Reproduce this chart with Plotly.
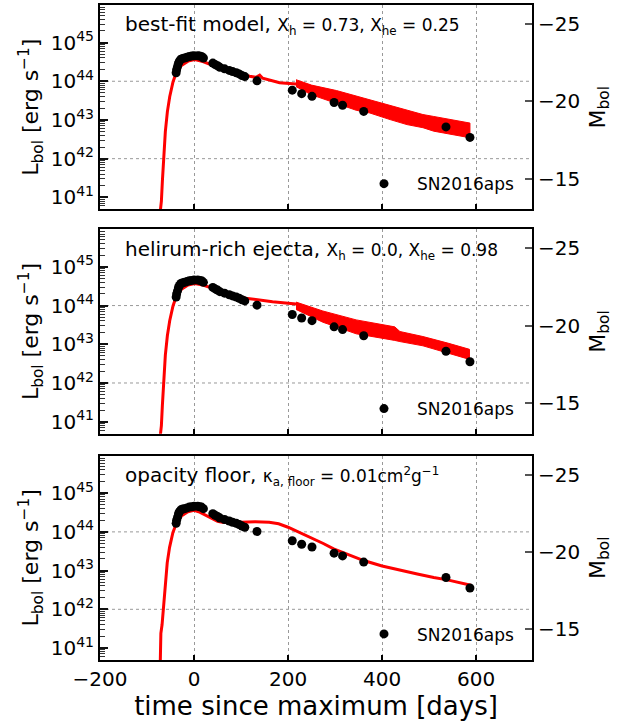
import plotly.graph_objects as go

# ---------------- data ----------------
# SN2016aps bolometric light curve: days since maximum, log10(L / erg s^-1)
obs_days = [-38, -37, -35, -33, -31, -28, -24, -20, -15, -10, -5, 0, 8, 12, 16, 20,
            40, 45, 50, 55, 65, 75, 82, 90, 96, 102, 108, 134,
            209, 229, 251, 298, 316, 361, 536, 587]
obs_logL = [44.22, 44.30, 44.38, 44.47, 44.52, 44.57, 44.59, 44.60, 44.62, 44.64, 44.65, 44.66,
            44.66, 44.65, 44.64, 44.60,
            44.47, 44.43, 44.40, 44.36, 44.32, 44.28, 44.25, 44.22, 44.19, 44.15, 44.12, 44.01,
            43.77, 43.68, 43.61, 43.45, 43.38, 43.22, 42.82, 42.55]

# Panel 1: best-fit model (smooth part, then oscillating band)
m1_days = [-73, -69.4, -67.3, -64.5, -61, -56.7, -51.7, -44.7, -37.4, -26.8, -12.7, 1.5,
           19, 47.7, 83, 118.5, 132, 139.8, 146, 182, 217]
m1_logL = [40.5, 40.9, 41.42, 42.02, 42.70, 43.21, 43.60, 43.98, 44.24, 44.41, 44.52, 44.56,
           44.51, 44.37, 44.22, 44.13, 44.10, 44.16, 44.08, 43.96, 43.93]
m1_band_days = [217, 250, 303, 345, 374, 417, 453, 487, 510, 550, 587]
m1_band_hi = [44.04, 43.90, 43.76, 43.62, 43.53, 43.37, 43.25, 43.14, 43.09, 43.01, 42.92]
m1_band_lo = [43.86, 43.65, 43.43, 43.25, 43.18, 43.01, 42.88, 42.80, 42.71, 42.63, 42.54]

# Panel 2: helium-rich ejecta model
m2_days = [-73, -69.4, -67.3, -64.5, -61, -56.7, -51.7, -44.7, -37.4, -26.8, -12.7, 1.5,
           19, 60.6, 110, 167, 217]
m2_logL = [40.5, 40.9, 41.42, 42.02, 42.72, 43.22, 43.61, 43.99, 44.25, 44.42, 44.53, 44.57,
           44.53, 44.36, 44.19, 44.10, 44.04]
m2_band_days = [217, 274, 345, 427, 438, 487, 540, 586]
m2_band_hi = [44.09, 43.86, 43.63, 43.45, 43.33, 43.20, 43.03, 42.87]
m2_band_lo = [43.90, 43.57, 43.27, 43.10, 43.07, 42.96, 42.78, 42.61]

# Panel 3: opacity-floor model
m3_days = [-72, -70.5, -68, -65, -61, -57, -52, -45, -37, -27, -13, 0, 10, 20, 35, 50, 60,
           80, 100, 130, 160, 180, 200, 225, 250, 275, 297, 330, 361, 400, 440, 475, 510,
           539, 589]
m3_logL = [40.5, 41.38, 41.6, 42.05, 42.72, 43.2, 43.6, 43.98, 44.24, 44.41, 44.52, 44.56,
           44.52, 44.46, 44.36, 44.27, 44.25, 44.24, 44.25, 44.26, 44.25, 44.21, 44.12,
           43.98, 43.85, 43.70, 43.56, 43.40, 43.26, 43.12, 43.00, 42.91, 42.82, 42.76, 42.62]

title_text = ["best-fit model, ", "helirum-rich ejecta, ", "opacity floor, "]
title_math = ["X<sub>h</sub> = 0.73, X<sub>he</sub> = 0.25",
              "X<sub>h</sub> = 0.0, X<sub>he</sub> = 0.98",
              "κ<sub>a, floor</sub> = 0.01cm<sup>2</sup>g<sup>−1</sup>"]

y_decades = [41, 42, 43, 44, 45]
y_ticktext = ["10<sup>41</sup>", "10<sup>42</sup>", "10<sup>43</sup>", "10<sup>44</sup>", "10<sup>45</sup>"]
minor_decades = [40, 41, 42, 43, 44, 45]
minor_mults = [2, 3, 4, 5, 6, 7, 8, 9]
grid_decades = [42, 44]
mag_ticks = [-25, -20, -15]
mag_ticktext = ["−25", "−20", "−15"]
x_ticks = [-200, 0, 200, 400, 600]
x_ticktext = ["−200", "0", "200", "400", "600"]

LOG_MIN, LOG_MAX = 40.69, 45.97
M_ZERO = 88.7          # M_bol = M_ZERO - 2.5 log10(L)
X_RANGE = [-200, 719]

FONT = "DejaVu Sans"
RED = "#ff0000"

# ---------------- figure ----------------
fig = go.Figure()

def L(vals):
    return [10.0 ** v for v in vals]

minor_vals = [m * 10.0 ** e for e in minor_decades for m in minor_mults]

models = [
    (m1_days, m1_logL, m1_band_days, m1_band_hi, m1_band_lo),
    (m2_days, m2_logL, m2_band_days, m2_band_hi, m2_band_lo),
    (m3_days, m3_logL, None, None, None),
]

legend_names = ["legend", "legend2", "legend3"]
y_domains = [[0.68798, 1.0], [0.34551, 0.65753], [0.0, 0.31202]]

for i, (md, ml, bd, bh, bl) in enumerate(models):
    xs = "x" if i == 0 else f"x{i + 1}"
    ys = "y" if i == 0 else f"y{2 * i + 1}"
    ys2 = f"y{2 * i + 2}"
    fig.add_trace(go.Scatter(x=md, y=L(ml), mode="lines", line=dict(color=RED, width=3),
                             showlegend=False, hoverinfo="skip", xaxis=xs, yaxis=ys))
    if bd is not None:
        fig.add_trace(go.Scatter(x=bd + bd[::-1], y=L(bh) + L(bl)[::-1], mode="lines",
                                 fill="toself", fillcolor=RED, line=dict(color=RED, width=1),
                                 showlegend=False, hoverinfo="skip", xaxis=xs, yaxis=ys))
    fig.add_trace(go.Scatter(x=obs_days, y=L(obs_logL), mode="markers",
                             marker=dict(color="black", size=9), name="SN2016aps",
                             legend=legend_names[i], showlegend=True, xaxis=xs, yaxis=ys))
    # same data on the magnitude axis (invisible) so that the right axis is drawn
    fig.add_trace(go.Scatter(x=obs_days, y=[M_ZERO - 2.5 * v for v in obs_logL], mode="markers",
                             marker=dict(opacity=0), showlegend=False, hoverinfo="skip",
                             xaxis=xs, yaxis=ys2))
    for g in grid_decades:
        fig.add_shape(type="line", xref=f"{xs} domain", yref=ys, x0=0, x1=1,
                      y0=10.0 ** g, y1=10.0 ** g, layer="below",
                      line=dict(color="#999999", width=1, dash="dot"))

    xa = "xaxis" if i == 0 else f"xaxis{i + 1}"
    ya = "yaxis" if i == 0 else f"yaxis{2 * i + 1}"
    ya2 = f"yaxis{2 * i + 2}"
    fig.layout[xa] = dict(
        anchor=ys, domain=[0, 1],
        range=X_RANGE, tickmode="array", tickvals=x_ticks, ticktext=x_ticktext,
        ticks="inside", ticklen=5, tickwidth=1.5, tickcolor="black",
        showline=True, linecolor="black", linewidth=2, mirror=True,
        showgrid=True, gridcolor="#999999", griddash="dot", gridwidth=1, zeroline=False,
        showticklabels=(i == 2), tickfont=dict(family=FONT, size=20, color="black"))
    fig.layout[ya] = dict(
        anchor=xs, domain=y_domains[i],
        type="log", range=[LOG_MIN, LOG_MAX], tickmode="array", tickvals=L(y_decades),
        ticktext=y_ticktext,
        ticks="inside", ticklen=8, tickwidth=1.5, tickcolor="#111111", showline=True,
        linecolor="black", linewidth=2, showgrid=False, zeroline=False,
        tickfont=dict(family=FONT, size=20, color="black"),
        minor=dict(tickmode="array", tickvals=minor_vals, ticks="inside", ticklen=5,
                   tickwidth=1, tickcolor="#333333", showgrid=False),
        title=dict(text="L<sub>bol</sub> [erg s<sup>−1</sup>]",
                   font=dict(family=FONT, size=22, color="black"), standoff=6))
    fig.layout[ya2] = dict(
        anchor=xs, overlaying=ys, side="right",
        range=[M_ZERO - 2.5 * LOG_MIN, M_ZERO - 2.5 * LOG_MAX], tickmode="array",
        tickvals=mag_ticks, ticktext=mag_ticktext,
        ticks="inside", ticklen=7, tickwidth=1.5, tickcolor="#555555",
        showline=True, linecolor="black", linewidth=2, showgrid=False, zeroline=False,
        tickfont=dict(family=FONT, size=20, color="black"),
        title=dict(text="M<sub>bol</sub>", font=dict(family=FONT, size=22, color="black"),
                   standoff=10))
    text = title_text[i] + "<span style='font-size:17px'>" + title_math[i] + "</span>"
    fig.add_annotation(text=text, xref=f"{xs} domain", yref=f"{ys} domain",
                       x=0.053, y=0.9, xanchor="left", yanchor="middle", showarrow=False,
                       font=dict(family=FONT, size=20, color="black"))

fig.layout["xaxis3"].title = dict(text="time since maximum [days]",
                                  font=dict(family=FONT, size=26, color="black"), standoff=4)

leg_y = [0.7265, 0.3831, 0.0391]
leg_common = dict(x=0.581, xanchor="left", yanchor="middle", bgcolor="rgba(0,0,0,0)",
                  borderwidth=0, itemwidth=56, font=dict(family=FONT, size=17, color="black"))
fig.update_layout(
    legend=dict(y=leg_y[0], **leg_common),
    legend2=dict(y=leg_y[1], **leg_common),
    legend3=dict(y=leg_y[2], **leg_common),
)

fig.update_layout(width=635, height=728, margin=dict(l=100, r=103, t=3, b=68),
                  paper_bgcolor="white", plot_bgcolor="white",
                  font=dict(family=FONT, color="black"))

fig.write_html("out.html")
